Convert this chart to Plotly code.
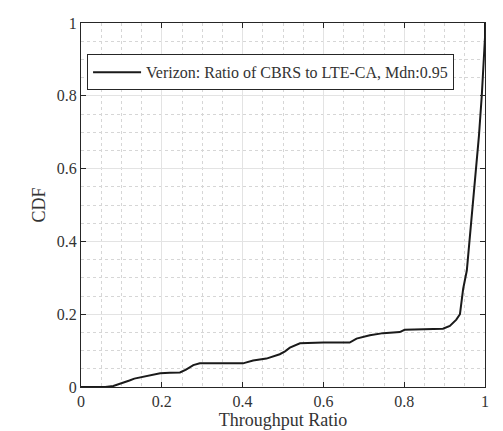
import plotly.graph_objects as go

# CDF of throughput ratio
ratio = [0.0, 0.06, 0.08, 0.095, 0.108, 0.12, 0.132, 0.15, 0.173, 0.196, 0.22, 0.245, 0.26, 0.278,
         0.294, 0.35, 0.401, 0.426, 0.459, 0.492, 0.505, 0.517, 0.542, 0.60, 0.665, 0.682, 0.715,
         0.748, 0.789, 0.801, 0.85, 0.896, 0.913, 0.929, 0.938, 0.942, 0.946, 0.955, 0.963,
         0.971, 0.978, 0.985, 0.992, 0.997, 1.0, 1.0]
cdf = [0.0, 0.0, 0.003, 0.008, 0.012, 0.018, 0.023, 0.027, 0.032, 0.038, 0.039, 0.040, 0.048, 0.060,
       0.065, 0.065, 0.065, 0.073, 0.078, 0.090, 0.098, 0.108, 0.120, 0.122, 0.122, 0.133, 0.142,
       0.148, 0.151, 0.157, 0.159, 0.160, 0.168, 0.185, 0.20, 0.23, 0.27, 0.32, 0.42,
       0.51, 0.60, 0.69, 0.80, 0.90, 0.96, 1.0]

legend_name = "Verizon: Ratio of CBRS to LTE-CA, Mdn:0.95"
x_ticks = [0, 0.2, 0.4, 0.6, 0.8, 1]
x_tick_labels = ["0", "0.2", "0.4", "0.6", "0.8", "1"]
y_ticks = [0, 0.2, 0.4, 0.6, 0.8, 1]
y_tick_labels = ["0", "0.2", "0.4", "0.6", "0.8", "1"]

FONT = "Liberation Serif"
TXT = "#333333"

fig = go.Figure()
fig.add_trace(go.Scatter(x=ratio, y=cdf, mode="lines", name=legend_name,
                         line=dict(color="#1a1a1a", width=2)))

axis_common = dict(
    showline=True, linecolor="#262626", linewidth=1.3, mirror="ticks",
    ticks="inside", ticklen=5, tickcolor="#262626", tickwidth=1,
    showgrid=True, gridcolor="#e3e3e3", gridwidth=1,
    zeroline=False, automargin=False,
    tickfont=dict(family=FONT, size=16, color=TXT),
    minor=dict(dtick=0.05, showgrid=True, gridcolor="#d6d6d6", griddash="dot", gridwidth=1),
)

fig.update_layout(
    width=503, height=431,
    margin=dict(l=81, r=18, t=23, b=44),
    plot_bgcolor="white", paper_bgcolor="white",
    showlegend=True,
    legend=dict(x=0.015, y=0.914, xanchor="left", yanchor="top",
                bordercolor="#262626", borderwidth=1, bgcolor="white",
                font=dict(family=FONT, size=16, color=TXT),
                tracegroupgap=0, itemwidth=48),
    font=dict(family=FONT, color=TXT),
)
fig.update_xaxes(range=[0, 1], tickvals=x_ticks, ticktext=x_tick_labels,
                 title=dict(text="Throughput Ratio", font=dict(family=FONT, size=18, color=TXT), standoff=1),
                 **axis_common)
fig.update_yaxes(range=[0, 1], tickvals=y_ticks, ticktext=y_tick_labels,
                 title=dict(text="CDF", font=dict(family=FONT, size=18, color=TXT), standoff=6),
                 **axis_common)

fig.write_html("out.html")
